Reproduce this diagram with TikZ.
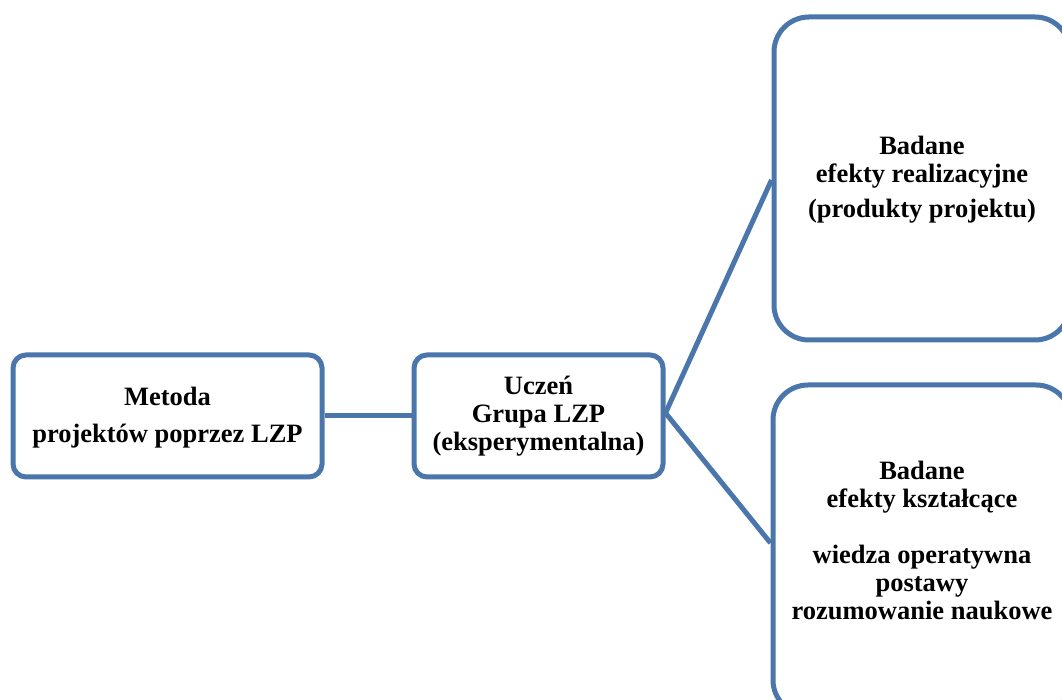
\documentclass[tikz,border=0pt]{standalone}
\usepackage{fontspec}
\setmainfont{Liberation Serif}
\definecolor{boxblue}{RGB}{74,118,172}
\begin{document}
\begin{tikzpicture}[x=1pt,y=1pt,
  box/.style={draw=boxblue, line width=5pt, rounded corners=13pt, fill=white, inner sep=0pt},
  bigbox/.style={box, rounded corners=35pt},
  txt/.style={align=center, inner sep=0pt, font=\bfseries\fontsize{26.5}{28}\selectfont},
  link/.style={draw=boxblue, line width=5pt}]
\useasboundingbox (0,0) rectangle (1062,700);
\clip (0,0) rectangle (1062,700);
% boxes (y = 700 - pixel row)
\node[box, minimum width=309pt, minimum height=122pt] (m) at (167.5,284) {};
\node[box, minimum width=249pt, minimum height=122pt] (u) at (538.5,284) {};
\node[bigbox, minimum width=296pt, minimum height=323pt] (r) at (922,521.5) {};
\node[bigbox, minimum width=298pt, minimum height=330pt] (k) at (922,150) {};
% connectors
\draw[link] (m.east) -- (u.west);
\draw[link] ([yshift=3pt]u.east) -- ([yshift=-1.5pt]r.west);
\draw[link] ([yshift=3pt]u.east) -- ([yshift=7pt]k.west);
% texts
\node[txt] (mt) at (167.5,282.6) {Metoda\\[9pt]projektów poprzez LZP};
\node[txt] (ut) at (538.5,283.6) {Uczeń\\Grupa LZP\\(eksperymentalna)};
\node[txt] (rt) at (922,520.6) {Badane\\efekty realizacyjne\\[7pt](produkty projektu)};
\node[txt] (kt) at (922,159.6) {Badane\\efekty kształcące\\[28pt]wiedza operatywna\\postawy\\rozumowanie naukowe};
\end{tikzpicture}
\end{document}
